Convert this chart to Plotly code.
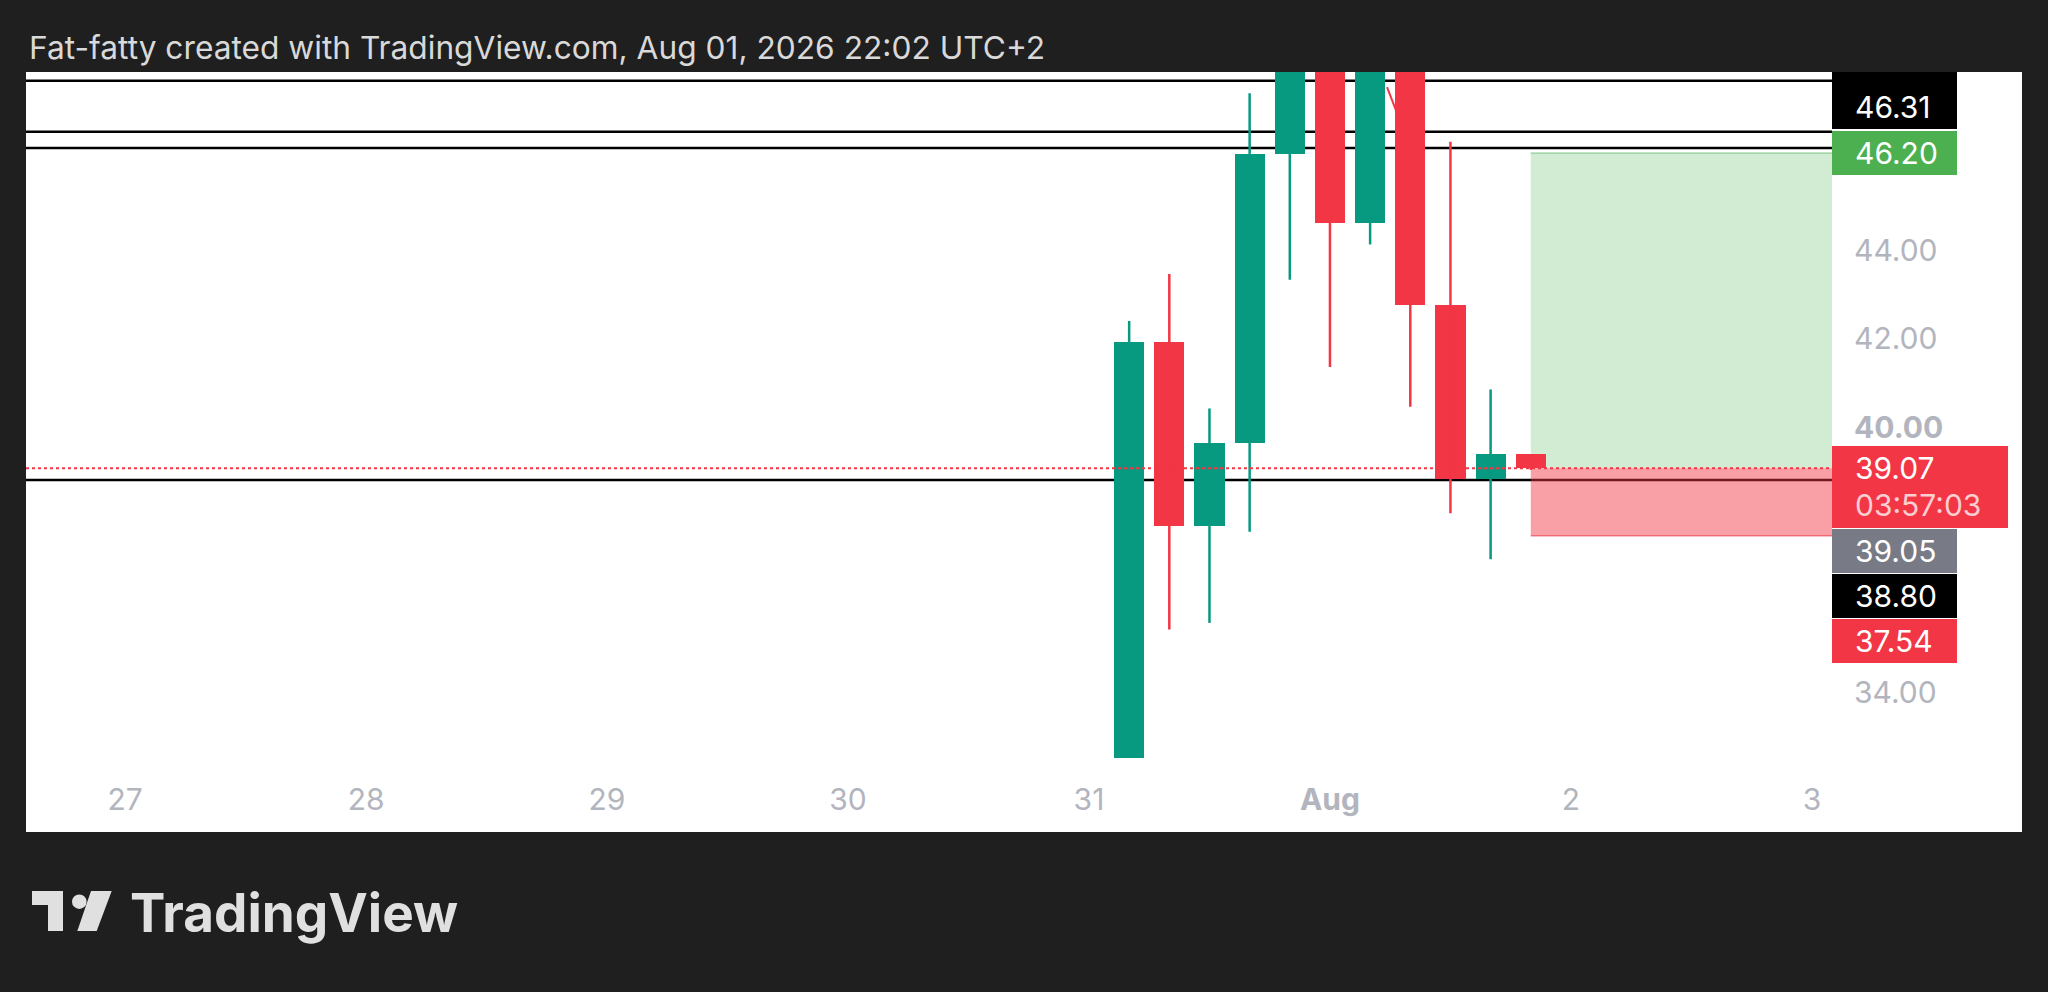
import plotly.graph_objects as go

W, H = 2048, 992

# ---------------- data ----------------
times = ["2026-07-31 04:00", "2026-07-31 08:00", "2026-07-31 12:00", "2026-07-31 16:00",
         "2026-07-31 20:00", "2026-08-01 00:00", "2026-08-01 04:00", "2026-08-01 08:00",
         "2026-08-01 12:00", "2026-08-01 16:00", "2026-08-01 20:00"]
opens  = [32.52, 41.93, 37.76, 39.63, 46.18, 49.00, 44.62, 48.60, 42.75, 38.82, 39.39]
highs  = [42.40, 43.46, 40.42, 47.55, 49.60, 49.90, 48.90, 48.90, 46.45, 40.85, 39.39]
lows   = [32.52, 35.42, 35.57, 37.63, 43.33, 41.36, 44.13, 40.46, 38.05, 37.01, 39.03]
closes = [41.93, 37.76, 39.63, 46.18, 49.00, 44.62, 48.60, 42.75, 38.82, 39.39, 39.07]

level_prices = [47.83, 46.68, 46.31, 38.80]          # black horizontal lines
last_price = 39.07
target_price = 46.20
stop_price = 37.54
diag_times = ["2026-08-01 05:41", "2026-08-01 06:34"]
diag_prices = [47.69, 47.17]

x_tick_vals = ["2026-07-27", "2026-07-28", "2026-07-29", "2026-07-30",
               "2026-07-31", "2026-08-01", "2026-08-02", "2026-08-03"]
x_tick_text = ["27", "28", "29", "30", "31", "<b>Aug</b>", "2", "3"]
y_tick_vals = [34, 40, 42, 44]
y_tick_text = ["34.00", "<b>40.00</b>", "42.00", "44.00"]

# price-scale labels: text, price, background
label_texts  = ["46.31", "46.20", "39.07", "39.05", "38.80", "37.54"]
label_prices = [46.31, 46.20, 39.07, 39.05, 38.80, 37.54]
label_colors = ["#000000", "#4caf50", "#f23645", "#787b86", "#000000", "#f23645"]
countdown_text = "03:57:03"

title_text = "Fat-fatty created with TradingView.com, Aug 01, 2026 22:02 UTC+2"

# ---------------- styles / layout ----------------
GREEN = "#089981"
RED = "#f23645"
BG = "#1f1f1f"
FONT = "Inter"
X_RANGE = ["2026-07-26 14:08", "2026-08-03 02:00"]
Y_RANGE = [32.22, 48.03]
PLOT_L, PLOT_R, PLOT_T, PLOT_B = 26, 1832, 72, 771
PANEL_R, PANEL_B = 2022, 832

def px(x):
    return x / W

def py(y):
    return 1 - y / H

# label placement (pixel shifts, positive = up) and box sizes
label_shifts = [41, 0, 0, -81.5, -115.5, -104.8]
label_box_shift = [41, 0, -18.5, -81.5, -115.5, -104.8]
label_box_w = [125, 125, 176, 125, 125, 125]
label_box_h = [44, 44, 82, 44, 44, 44]

fig = go.Figure()

# wicks
for col, cond in ((GREEN, True), (RED, False)):
    wx, wy = [], []
    for t, o, h, l, c in zip(times, opens, highs, lows, closes):
        if (c >= o) == cond:
            wx += [t, t, None]
            wy += [l, h, None]
    fig.add_trace(go.Scatter(x=wx, y=wy, mode="lines", line=dict(color=col, width=2.5),
                             hoverinfo="skip", showlegend=False))

# bodies
fig.add_trace(go.Bar(
    x=times,
    y=[abs(c - o) for o, c in zip(opens, closes)],
    base=[min(o, c) for o, c in zip(opens, closes)],
    width=[3 * 3600 * 1000] * len(times),
    marker=dict(color=[GREEN if c >= o else RED for o, c in zip(opens, closes)], line=dict(width=0)),
    showlegend=False, hoverinfo="skip"))

shapes = []
# white panel
shapes.append(dict(type="rect", xref="paper", yref="paper", x0=px(PLOT_L), x1=px(PANEL_R),
                   y0=py(PANEL_B), y1=py(PLOT_T), fillcolor="#ffffff", line=dict(width=0), layer="below"))
# position tool
shapes.append(dict(type="rect", xref="x", yref="y", x0=times[-1], x1=X_RANGE[1], y0=last_price, y1=target_price,
                   fillcolor="rgba(76,175,80,0.25)", line=dict(width=0), layer="below"))
shapes.append(dict(type="rect", xref="x", yref="y", x0=times[-1], x1=X_RANGE[1], y0=stop_price, y1=last_price,
                   fillcolor="rgba(242,54,69,0.47)", line=dict(width=0), layer="below"))
shapes.append(dict(type="line", xref="x", yref="y", x0=times[-1], x1=X_RANGE[1], y0=target_price, y1=target_price,
                   line=dict(color="rgba(76,175,80,0.45)", width=1.5), layer="below"))
shapes.append(dict(type="line", xref="x", yref="y", x0=times[-1], x1=X_RANGE[1], y0=stop_price, y1=stop_price,
                   line=dict(color="rgba(242,54,69,0.6)", width=1.5), layer="below"))
# black levels
for p in level_prices:
    shapes.append(dict(type="line", xref="paper", yref="y", x0=px(PLOT_L), x1=px(PLOT_R), y0=p, y1=p,
                       line=dict(color="#000000", width=2.5), layer="below"))
# diagonal drawing
shapes.append(dict(type="line", xref="x", yref="y", x0=diag_times[0], x1=diag_times[1],
                   y0=diag_prices[0], y1=diag_prices[1], line=dict(color=RED, width=2)))
# last price dotted line
shapes.append(dict(type="line", xref="paper", yref="y", x0=px(PLOT_L), x1=px(PLOT_R), y0=last_price, y1=last_price,
                   line=dict(color=RED, width=2, dash="dot")))

# cut-off black label at top of price scale
shapes.append(dict(type="rect", xref="paper", yref="paper", x0=px(PLOT_R), x1=px(PLOT_R + 125),
                   y0=py(85), y1=py(PLOT_T), fillcolor="#000000", line=dict(width=0)))

# TradingView logo icon
LOGO = "#e0e0e0"
shapes.append(dict(type="rect", xref="paper", yref="paper", x0=px(32), x1=px(63), y0=py(905), y1=py(891),
                   fillcolor=LOGO, line=dict(width=0)))
shapes.append(dict(type="rect", xref="paper", yref="paper", x0=px(48), x1=px(63), y0=py(931), y1=py(891),
                   fillcolor=LOGO, line=dict(width=0)))
shapes.append(dict(type="circle", xref="paper", yref="paper", x0=px(72), x1=px(86.6), y0=py(909), y1=py(894.4),
                   fillcolor=LOGO, line=dict(width=0)))
shapes.append(dict(type="path", xref="paper", yref="paper",
                   path=f"M{px(91)},{py(891)} L{px(111.7)},{py(891)} L{px(96.7)},{py(931)} L{px(77.3)},{py(931)} Z",
                   fillcolor=LOGO, line=dict(width=0)))

annotations = []
annotations.append(dict(text=title_text, xref="paper", yref="paper", x=px(27), y=py(48),
                        xanchor="left", yanchor="middle", showarrow=False,
                        font=dict(family=FONT, size=31.7, color="#d9d9d9")))
annotations.append(dict(text="TradingView", xref="paper", yref="paper", x=px(128), y=py(913),
                        xanchor="left", yanchor="middle", showarrow=False,
                        font=dict(family=FONT, size=53, color=LOGO, weight=700)))

for txt, p, col, sh, bsh, bw, bh in zip(label_texts, label_prices, label_colors, label_shifts,
                                         label_box_shift, label_box_w, label_box_h):
    annotations.append(dict(text=" ", xref="paper", yref="y", x=px(PLOT_R), y=p, xanchor="left",
                            yanchor="middle", yshift=bsh, width=bw, height=bh, bgcolor=col,
                            borderpad=0, borderwidth=0, showarrow=False, font=dict(size=10)))
    annotations.append(dict(text=txt, xref="paper", yref="y", x=px(PLOT_R), y=p, xanchor="left",
                            yanchor="middle", xshift=21, yshift=sh, showarrow=False,
                            font=dict(family=FONT, size=30, color="#ffffff")))
annotations.append(dict(text=countdown_text, xref="paper", yref="y", x=px(PLOT_R), y=label_prices[2],
                        xanchor="left", yanchor="middle", xshift=21, yshift=-37, showarrow=False,
                        font=dict(family=FONT, size=30, color="#fccdd1")))

fig.update_layout(
    width=W, height=H, autosize=False, template="none",
    margin=dict(l=0, r=0, t=0, b=0),
    paper_bgcolor=BG, plot_bgcolor="#ffffff",
    barmode="overlay", bargap=0,
    showlegend=False,
    shapes=shapes, annotations=annotations,
    xaxis=dict(type="date", range=X_RANGE, domain=[px(PLOT_L), px(PLOT_R)],
               tickvals=x_tick_vals, ticktext=x_tick_text,
               tickfont=dict(family=FONT, size=30, color="#b2b5be"),
               ticks="outside", ticklen=2, tickcolor="rgba(0,0,0,0)",
               showgrid=False,
               showline=False, zeroline=False, automargin=False, fixedrange=True),
    yaxis=dict(range=Y_RANGE, domain=[py(PLOT_B), py(PLOT_T)], side="right",
               tickvals=y_tick_vals, ticktext=y_tick_text,
               tickfont=dict(family=FONT, size=30, color="#b2b5be"),
               ticks="outside", ticklen=15, tickcolor="rgba(0,0,0,0)",
               showgrid=False, showline=False, zeroline=False, automargin=False, fixedrange=True),
)

fig.write_html("out.html", config={"displayModeBar": False},
               post_script="document.body.style.margin='0';document.body.style.background='%s';"
                           "document.body.style.overflow='hidden';" % BG)
